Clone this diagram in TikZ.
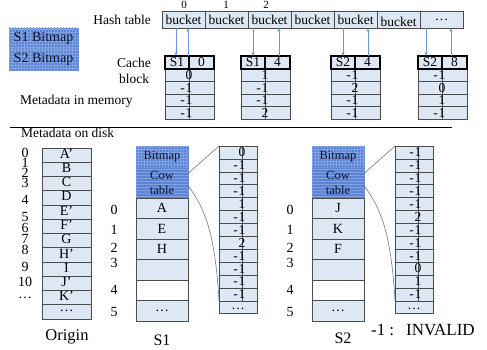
\documentclass[tikz,border=0pt]{standalone}
\usepackage{fontspec}
\setmainfont{Liberation Serif}
\usetikzlibrary{arrows.meta,patterns}

\definecolor{cellblue}{RGB}{222,231,244}
\definecolor{edgegray}{RGB}{75,75,80}
\definecolor{bmblue}{RGB}{92,132,210}
\definecolor{bmline}{RGB}{128,162,226}
\definecolor{bmtext}{RGB}{15,20,45}
\definecolor{ptrblue}{RGB}{105,150,215}
\definecolor{linkgray}{RGB}{100,100,100}

\newcommand{\fs}[1]{\fontsize{#1}{#1}\selectfont}
% "-1" centred on its digit, so the digit sits on the column split
\newcommand{\mone}{\llap{-\kern0.8pt}1}

\begin{document}
\begin{tikzpicture}[x=1pt,y=-1pt,
  cell/.style={draw=edgegray, fill=cellblue, line width=0.6pt, inner sep=0pt, outer sep=0pt, anchor=north west},
  head/.style={cell, draw=black, line width=1.1pt},
  blockbase/.style={draw=bmline!40!bmblue, line width=0.6pt, fill=bmblue, inner sep=0pt, outer sep=0pt, anchor=north west},
  bitbox/.style={blockbase, postaction={pattern=grid, pattern color=bmline}},
  cowbox/.style={blockbase, postaction={pattern=horizontal lines, pattern color=bmline}},
  lbl/.style={inner sep=0pt, font=\fs{13.5}},
  val/.style={inner sep=0pt, font=\fs{13.5}},
  idx/.style={inner sep=0pt, font=\fs{14}},
  tag/.style={inner sep=0pt, font=\fs{12.5}, text=bmtext},
  ptr/.style={draw=ptrblue, line width=0.7pt, -{Stealth[length=4pt,width=3pt]}},
  link/.style={draw=linkgray, line width=0.5pt}]
\useasboundingbox (0,0) rectangle (487,350);

% ---------- hash table ----------
\foreach \i in {0,...,6}
  \node[cell, minimum width=43pt, minimum height=17pt] (hb\i) at ({162+43*\i},11) {};
\foreach \i in {0,...,4}
  \node[val] (hbt\i) at (hb\i.center) {bucket};
\node[val] (hbt5) at ([yshift=-2pt]hb5.center) {bucket};
\node[val] (hbt6) at (hb6.center) {\ldots};
\node[lbl, font=\fs{11}] (hi0) at (184,5) {0};
\node[lbl, font=\fs{11}] (hi1) at (226,5) {1};
\node[lbl, font=\fs{11}] (hi2) at (266,5) {2};
\node[lbl, anchor=east] (hashlbl) at (151,20) {Hash table};

% ---------- bitmap legend ----------
\node[bitbox, minimum width=69pt, minimum height=20pt] (bm1) at (9,28) {};
\node[bitbox, minimum width=69pt, minimum height=21pt] (bm2) at (9,49) {};
\node[tag, font=\fs{14}] (bm1t) at (bm1.center) {S1 Bitmap};
\node[tag, font=\fs{14}] (bm2t) at (bm2.center) {S2 Bitmap};

% ---------- cache blocks in memory ----------
\node[lbl] (cachelbl) at (134,63) {Cache};
\node[lbl] (blocklbl) at (134,79) {block};
\node[lbl, anchor=west] (memlbl) at (20,101) {Metadata in memory};

\foreach \n/\bx/\ha/\hb/\vals in {
    1/165/S1/0/{0,\mone,\mone,\mone},
    2/241/S1/4/{1,\mone,\mone,2},
    3/331/S2/4/{\mone,2,\mone,\mone},
    4/418/S2/8/{\mone,0,1,\mone}} {
  \foreach \v [count=\k from 0] in \vals {
    \node[cell, minimum width=24pt, minimum height=12.5pt] (c\n-l\k) at (\bx,{69+12.5*\k}) {};
    \node[cell, minimum width=25pt, minimum height=12.5pt] (c\n-r\k) at ({\bx+24},{69+12.5*\k}) {};
  }
  \foreach \v [count=\k from 0] in \vals
    \node[val] (c\n-v\k) at (c\n-l\k.east) {\v};
  \node[head, minimum width=24pt, minimum height=13pt] (c\n-hl) at (\bx,56) {};
  \node[head, minimum width=25pt, minimum height=13pt] (c\n-hr) at ({\bx+24},56) {};
  \node[val] (c\n-hlt) at (c\n-hl.center) {\ha};
  \node[val] (c\n-hrt) at (c\n-hr.center) {\hb};
}

% pointers between buckets and cache blocks
\foreach \n/\b/\d/\u in {1/0/176/188, 2/2/253/279, 3/4/343/368, 4/6/426/451} {
  \coordinate (dn\n) at (\d,0);
  \coordinate (up\n) at (\u,0);
  \draw[ptr] (dn\n |- hb\b.south) -- (dn\n |- c\n-hl.north);
  \draw[ptr] (up\n |- c\n-hl.north) -- (up\n |- hb\b.south);
}

% memory / disk separator
\coordinate (sepL) at (10,127);
\coordinate (sepR) at (452,127);
\draw[line width=0.6pt] (sepL) -- (sepR);
\node[lbl, anchor=west] (disklbl) at (21,133) {Metadata on disk};

% ---------- origin volume ----------
\foreach \t [count=\k from 0] in {A',B,C,D,E',F',G,H',I,J',K',\ldots}
  \node[cell, minimum width=49pt, minimum height=14.25pt] (o\k) at (42,{148+14.25*\k}) {};
\foreach \t [count=\k from 0] in {A',B,C,D,E',F',G,H',I,J',K',\ldots}
  \node[idx] (ot\k) at ([yshift=1.5pt]o\k.center) {\t};
\foreach \t/\yy [count=\k from 0] in {0/153,1/163,2/173,3/183,4/200,5/217,6/228,7/239,8/250,9/267,10/282,\ldots/298}
  \node[idx] (oi\k) at (25,\yy) {\t};
\node[lbl, font=\fs{16.5}] (origlbl) at (67,337) {Origin};

% ---------- snapshot volumes ----------
\foreach \s/\sx/\ix in {1/136/114, 2/312/290} {
  \node[bitbox, minimum width=52pt, minimum height=21pt] (s\s-bm) at (\sx,146) {};
  \node[cowbox, minimum width=52pt, minimum height=31pt] (s\s-cow) at (\sx,167) {};
  \foreach \k in {0,...,5} {
    \ifnum\k=4 \def\rowfill{white}\else\def\rowfill{cellblue}\fi
    \node[cell, fill=\rowfill, minimum width=52pt, minimum height=20.5pt] (s\s-d\k) at (\sx,{198+20.5*\k}) {};
  }
  \node[tag] (s\s-bmt) at (s\s-bm.center) {Bitmap};
  \node[tag] (s\s-cowt) at ([yshift=7.5pt]s\s-cow.center) {Cow};
  \node[tag] (s\s-tabt) at ([yshift=-7.5pt]s\s-cow.center) {table};
  \node[idx] (s\s-dots) at (s\s-d5.center) {\ldots};
  \foreach \yy [count=\k from 0] in {210,230,248,263,290,312}
    \node[idx] (s\s-i\k) at (\ix,\yy) {\k};
}
\node[idx] (s1-a) at (s1-d0.center) {A};
\node[idx] (s1-e) at (s1-d1.center) {E};
\node[idx] (s1-h) at (s1-d2.center) {H};
\node[idx] (s2-j) at (s2-d0.center) {J};
\node[idx] (s2-k) at (s2-d1.center) {K};
\node[idx] (s2-f) at (s2-d2.center) {F};
\node[lbl, font=\fs{16}] (s1lbl) at (162,340) {S1};
\node[lbl, font=\fs{16}] (s2lbl) at (343,338) {S2};

% ---------- copy-on-write tables ----------
\foreach \s/\cx/\vals in {
    1/219/{0,\mone,\mone,\mone,1,\mone,\mone,2,\mone,\mone,\mone,\mone},
    2/395/{\mone,\mone,\mone,\mone,\mone,2,\mone,\mone,\mone,0,1,\mone}} {
  \foreach \v [count=\k from 0] in \vals {
    \node[cell, minimum width=23pt, minimum height=12.9pt] (w\s-l\k) at (\cx,{146+12.9*\k}) {};
    \node[cell, minimum width=15pt, minimum height=12.9pt] (w\s-r\k) at ({\cx+23},{146+12.9*\k}) {};
  }
  \node[cell, minimum width=38pt, minimum height=12.9pt] (w\s-end) at (\cx,{146+12.9*12}) {};
  \foreach \v [count=\k from 0] in \vals
    \node[val] (w\s-v\k) at (w\s-l\k.east) {\v};
  \node[val] (w\s-endt) at ([yshift=-1.5pt]w\s-end.center) {\ldots};
  \draw[link] ([yshift=9pt]s\s-cow.east) -- (w\s-l0.north west);
  \draw[link] ([yshift=-3pt]s\s-cow.east) .. controls +(16,22) and +(-4,-70) .. (w\s-end.north west);
}

\node[lbl, font=\fs{17}, anchor=west] (legend) at (371,330) {-1\hspace{4pt}:\hspace{12pt}INVALID};
\end{tikzpicture}
\end{document}
